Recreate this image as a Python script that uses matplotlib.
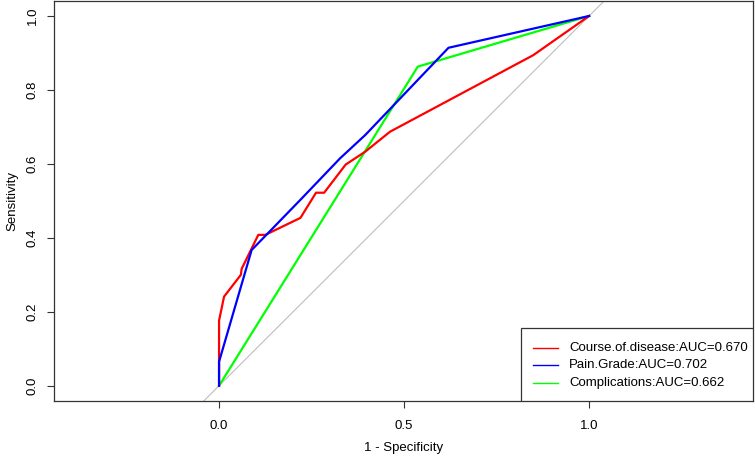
import matplotlib
matplotlib.use("Agg")
import matplotlib.pyplot as plt
from matplotlib.patches import Rectangle

plt.rcParams['font.family'] = ['Liberation Sans', 'DejaVu Sans']

# ROC points (x = 1 - specificity, y = sensitivity)
course_fpr = [0.0, 0.0, 0.0135, 0.059, 0.061, 0.086, 0.106, 0.125, 0.220, 0.262, 0.284, 0.342, 0.395, 0.462, 0.849, 1.0]
course_tpr = [0.0, 0.176, 0.241, 0.300, 0.316, 0.367, 0.408, 0.408, 0.454, 0.522, 0.522, 0.598, 0.633, 0.687, 0.894, 1.0]

pain_fpr = [0.0, 0.0, 0.088, 0.221, 0.327, 0.395, 0.620, 1.0]
pain_tpr = [0.0, 0.065, 0.367, 0.504, 0.615, 0.678, 0.914, 1.0]

comp_fpr = [0.0, 0.537, 1.0]
comp_tpr = [0.0, 0.863, 1.0]

labels = ["Course.of.disease:AUC=0.670", "Pain.Grade:AUC=0.702", "Complications:AUC=0.662"]
colors = ["#FF0000", "#0000FF", "#00FF00"]

fig = plt.figure(figsize=(7.55, 4.57), dpi=100)
ax = fig.add_axes([54/755, 1 - 400.7/457, (752.7 - 54)/755, (400.7 - 1)/457])

# chance line
ax.plot([-1, 2], [-1, 2], color="#BEBEBE", lw=0.8, zorder=1)

ax.plot(course_fpr, course_tpr, color=colors[0], lw=1.6, zorder=3)
ax.plot(pain_fpr, pain_tpr, color=colors[1], lw=1.6, zorder=3)
ax.plot(comp_fpr, comp_tpr, color=colors[2], lw=1.6, zorder=2)

ax.set_xlim(-0.446, 1.442)
ax.set_ylim(-0.0405, 1.0405)
ax.set_xticks([0.0, 0.5, 1.0])
ax.set_xticklabels(["0.0", "0.5", "1.0"])
ax.set_yticks([0.0, 0.2, 0.4, 0.6, 0.8, 1.0])
ax.set_yticklabels(["0.0", "0.2", "0.4", "0.6", "0.8", "1.0"], rotation=90, va="center")
ax.tick_params(direction="out", length=5, width=0.8, color="#333333", labelsize=9.5)
ax.tick_params(axis="x", pad=9)
ax.tick_params(axis="y", pad=6)
for s in ax.spines.values():
    s.set_color("#333333")
    s.set_linewidth(0.9)

ax.set_xlabel("1 - Specificity", fontsize=9.5, va="center")
ax.set_ylabel("Sensitivity", fontsize=9.5, va="center")
ax.xaxis.set_label_coords(0.5, -0.118)
ax.yaxis.set_label_coords(-0.060, 0.5)

# legend box drawn by hand, bottom right like R's legend()
ax.add_patch(Rectangle((0.669, 0.0), 0.331, 0.182, transform=ax.transAxes,
                       facecolor="white", edgecolor="#333333", lw=0.9, zorder=5))
rows = [0.1326, 0.0893, 0.045]
for lab, col, yy in zip(labels, colors, rows):
    ax.plot([0.6856, 0.7213], [yy, yy], transform=ax.transAxes, color=col, lw=1.0, zorder=6)
    ax.text(0.737, yy, lab, transform=ax.transAxes, fontsize=9.5, va="center", ha="left", zorder=6)

fig.savefig("out.png", dpi=100)
